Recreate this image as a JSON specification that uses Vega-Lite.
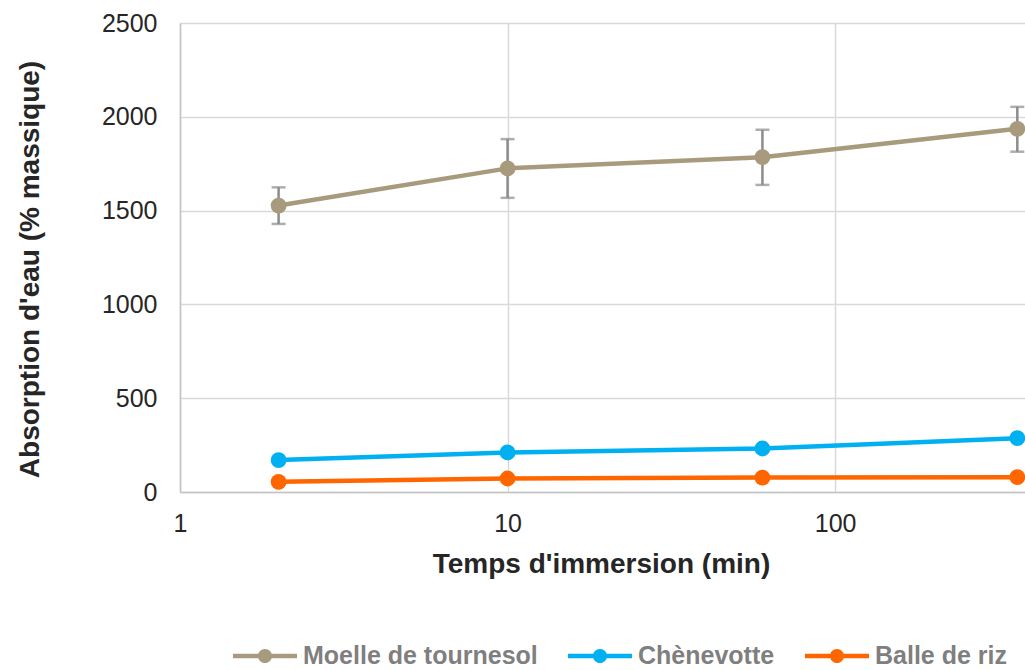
{
  "$schema": "https://vega.github.io/schema/vega-lite/v6.json",
  "autosize": "none",
  "padding": {"left": 180, "top": 23, "right": 0, "bottom": 178},
  "width": 845,
  "height": 469,
  "background": "white",
  "config": {
    "view": {"stroke": null},
    "font": "Liberation Sans",
    "axis": {
      "labelFont": "Liberation Sans",
      "titleFont": "Liberation Sans",
      "labelColor": "#262626",
      "titleColor": "#262626",
      "labelFontSize": 25,
      "titleFontSize": 28,
      "titleFontWeight": "bold",
      "gridColor": "#D9D9D9",
      "gridWidth": 1.5,
      "domainColor": "#C4C4C4",
      "domainWidth": 1.5,
      "ticks": false,
      "tickSize": 0,
      "labelFlush": false
    }
  },
  "data": {
    "values": [
      {"serie": "Moelle de tournesol", "t": 2, "v": 1527, "lo": 1429, "hi": 1624},
      {"serie": "Moelle de tournesol", "t": 10, "v": 1725, "lo": 1568, "hi": 1881},
      {"serie": "Moelle de tournesol", "t": 60, "v": 1785, "lo": 1637, "hi": 1931},
      {"serie": "Moelle de tournesol", "t": 360, "v": 1936, "lo": 1814, "hi": 2053},
      {"serie": "Chènevotte", "t": 2, "v": 170},
      {"serie": "Chènevotte", "t": 10, "v": 211},
      {"serie": "Chènevotte", "t": 60, "v": 232},
      {"serie": "Chènevotte", "t": 360, "v": 287},
      {"serie": "Balle de riz", "t": 2, "v": 54},
      {"serie": "Balle de riz", "t": 10, "v": 72},
      {"serie": "Balle de riz", "t": 60, "v": 77},
      {"serie": "Balle de riz", "t": 360, "v": 79}
    ]
  },
  "encoding": {
    "x": {
      "field": "t",
      "type": "quantitative",
      "scale": {"type": "log", "domain": [1, 380], "nice": false},
      "axis": {
        "values": [1, 10, 100],
        "format": "d",
        "grid": true,
        "labelPadding": 19,
        "labelBaseline": "top",
        "title": "Temps d'immersion (min)",
        "titleX": 421,
        "titleY": 80,
        "titleBaseline": "alphabetic",
        "titleAnchor": "middle",
        "titleAlign": "center"
      }
    },
    "y": {
      "field": "v",
      "type": "quantitative",
      "scale": {"domain": [0, 2500], "nice": false},
      "axis": {
        "values": [0, 500, 1000, 1500, 2000, 2500],
        "format": "d",
        "grid": true,
        "labelPadding": 23,
        "title": "Absorption d'eau (% massique)",
        "titleAngle": -90,
        "titleX": -150,
        "titleY": 246,
        "titleAlign": "center",
        "titleBaseline": "middle"
      }
    }
  },
  "layer": [
    {
      "transform": [{"filter": "isValid(datum.lo)"}],
      "mark": {"type": "rule", "color": "#8C8C8C", "strokeWidth": 2.5},
      "encoding": {"y": {"field": "lo", "type": "quantitative"}, "y2": {"field": "hi"}}
    },
    {
      "transform": [{"filter": "isValid(datum.lo)"}],
      "mark": {"type": "tick", "orient": "horizontal", "color": "#8C8C8C", "size": 14, "thickness": 2.5},
      "encoding": {"y": {"field": "lo", "type": "quantitative"}}
    },
    {
      "transform": [{"filter": "isValid(datum.hi)"}],
      "mark": {"type": "tick", "orient": "horizontal", "color": "#8C8C8C", "size": 14, "thickness": 2.5},
      "encoding": {"y": {"field": "hi", "type": "quantitative"}}
    },
    {
      "mark": {"type": "line", "strokeWidth": 4.5},
      "encoding": {
        "color": {"field": "serie", "type": "nominal",
          "scale": {"domain": ["Moelle de tournesol", "Chènevotte", "Balle de riz"], "range": ["#A89A7D", "#00B0F0", "#FF6600"]}},
        "detail": {"field": "serie"}
      }
    },
    {
      "mark": {"type": "point", "filled": true, "opacity": 1, "size": 250},
      "encoding": {
        "color": {
          "field": "serie",
          "type": "nominal",
          "scale": {"domain": ["Moelle de tournesol", "Chènevotte", "Balle de riz"], "range": ["#A89A7D", "#00B0F0", "#FF6600"]},
          "legend": {
            "title": null,
            "orient": "none",
            "direction": "horizontal",
            "columns": 3,
            "legendX": 53,
            "legendY": 601,
            "symbolType": "M-1,-0.07H1V0.07H-1Z M0.22,0A0.22,0.22 0 1,1 -0.22,0A0.22,0.22 0 1,1 0.22,0Z",
            "symbolSize": 4096,
            "symbolStrokeWidth": 0,
            "symbolOpacity": 1,
            "symbolFillColor": "#888888",
            "labelFont": "Liberation Sans",
            "labelFontSize": 25,
            "labelFontWeight": "bold",
            "labelColor": "#7F7F7F",
            "labelOffset": 6,
            "columnPadding": 30,
            "labelLimit": 400,
            "encode": {"symbols": {"update": {"fill": {"scale": "color", "field": "value"}, "strokeWidth": {"value": 0}, "opacity": {"value": 1}}}}
          }
        }
      }
    }
  ]
}
